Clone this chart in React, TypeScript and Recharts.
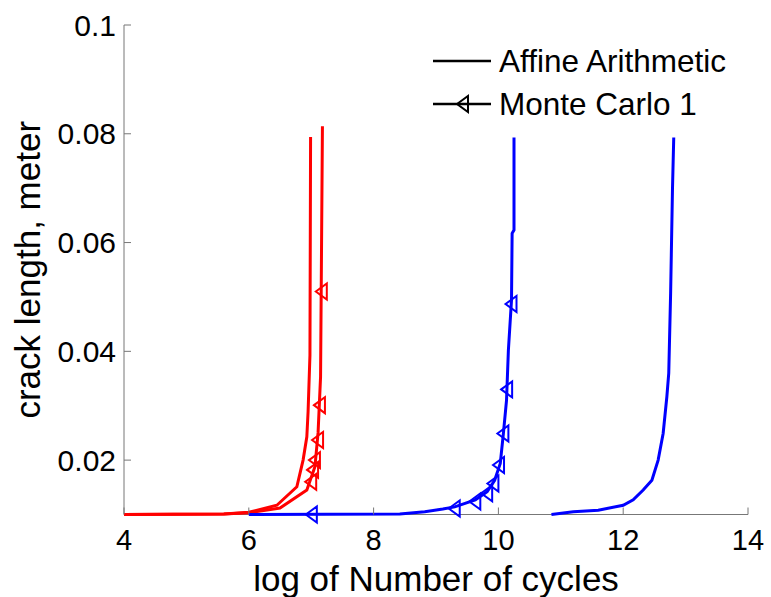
import React from "react";
import {
  ComposedChart,
  Line,
  Scatter,
  XAxis,
  YAxis,
} from "recharts";

// log10(N) vs crack length (m)
const redAffineLow: [number, number][] = [
  [4, 0.01], [5.6, 0.0101], [6.0, 0.0104], [6.45, 0.0117], [6.77, 0.0151],
  [6.87, 0.02], [6.93, 0.0243], [6.95, 0.0289], [6.98, 0.0393], [6.99, 0.0794],
];
const redAffineHigh: [number, number][] = [
  [4, 0.01], [5.6, 0.0101], [6.0, 0.0103], [6.5, 0.0112], [6.93, 0.0145],
  [7.06, 0.0188], [7.11, 0.025], [7.15, 0.0353], [7.18, 0.0814],
];
const blueAffineLow: [number, number][] = [
  [6.0, 0.01], [8.42, 0.0101], [8.82, 0.0105], [9.11, 0.011], [9.3, 0.0114],
  [9.63, 0.0127], [9.82, 0.0142], [9.94, 0.0163], [10.03, 0.0194], [10.08, 0.0249],
  [10.13, 0.031], [10.16, 0.0402], [10.21, 0.0494], [10.22, 0.0617], [10.25, 0.0623],
  [10.25, 0.0793],
];
const blueAffineHigh: [number, number][] = [
  [10.85, 0.01], [11.2, 0.0105], [11.6, 0.0108], [12.0, 0.0117], [12.16, 0.0127],
  [12.32, 0.0145], [12.46, 0.0163], [12.56, 0.02], [12.64, 0.0249], [12.7, 0.0317],
  [12.73, 0.036], [12.76, 0.0507], [12.79, 0.07], [12.81, 0.0793],
];

// Monte Carlo markers
const redMonteCarlo: [number, number][] = [
  [7.0, 0.016], [7.03, 0.0182], [7.06, 0.02], [7.11, 0.0237], [7.14, 0.0301], [7.17, 0.051],
];
const blueMonteCarlo: [number, number][] = [
  [7.01, 0.01], [9.3, 0.0111], [9.63, 0.0124], [9.82, 0.0139], [9.92, 0.0157],
  [10.01, 0.0191], [10.08, 0.0249], [10.14, 0.033], [10.21, 0.0487],
];

const xTicks = [4, 6, 8, 10, 12, 14];
const yTicks = [0.02, 0.04, 0.06, 0.08, 0.1];

const toRows = (pts: [number, number][]) => pts.map(([x, y]) => ({ x, y }));

const RED = "#ff0000";
const BLUE = "#0000ff";
const AXIS = "#777777";
const FONT = "'Liberation Sans', Arial, sans-serif";
const TICK_LEN = 7;

function Tri({ cx, cy, color }: { cx: number; cy: number; color: string }) {
  const pts = `${cx - 6},${cy} ${cx + 5},${cy - 8} ${cx + 5},${cy + 8}`;
  return <polygon points={pts} fill="none" stroke={color} strokeWidth={2} />;
}

const fmtY = (v: number) => (v === 0.1 ? "0.1" : v.toFixed(2));

function BottomTick({ x, y, payload }: any) {
  return (
    <g>
      <line x1={x} y1={y} x2={x} y2={y - TICK_LEN} stroke={AXIS} />
      <text x={x} y={y + 25} textAnchor="middle" dominantBaseline="central"
        fontSize={29} fontFamily={FONT} fill="#000">
        {payload.value}
      </text>
    </g>
  );
}

function LeftTick({ x, y, payload }: any) {
  return (
    <g>
      <line x1={x} y1={y} x2={x + TICK_LEN} y2={y} stroke={AXIS} />
      <text x={x - 8} y={y} textAnchor="end" dominantBaseline="central"
        fontSize={30} fontFamily={FONT} fill="#000">
        {fmtY(payload.value)}
      </text>
    </g>
  );
}

const TopTick = ({ x, y }: any) => (
  <line x1={x} y1={y} x2={x} y2={y + TICK_LEN} stroke={AXIS} />
);
const RightTick = ({ x, y }: any) => (
  <line x1={x} y1={y} x2={x - TICK_LEN} y2={y} stroke={AXIS} />
);

function YTitle({ viewBox }: any) {
  const cx = 27;
  const cy = viewBox.y + viewBox.height / 2;
  return (
    <text x={cx} y={cy} transform={`rotate(-90 ${cx} ${cy})`} textAnchor="middle"
      dominantBaseline="central" fontSize={35} fontFamily={FONT} fill="#000">
      crack length, meter
    </text>
  );
}

function LegendBox() {
  const txt = { fontSize: 31.5, fontFamily: FONT, fill: "#000" };
  return (
    <svg width={330} height={90} style={{ position: "absolute", left: 425, top: 40 }}>
      <line x1={8} y1={21} x2={66} y2={21} stroke="#000" strokeWidth={2.5} />
      <text x={74} y={21} dominantBaseline="central" {...txt}>Affine Arithmetic</text>
      <line x1={8} y1={64} x2={66} y2={64} stroke="#000" strokeWidth={2.5} />
      <Tri cx={38} cy={64} color="#000" />
      <text x={74} y={64} dominantBaseline="central" {...txt}>Monte Carlo 1</text>
    </svg>
  );
}

export default function App() {
  const curves = [
    { key: "rl", pts: redAffineLow, color: RED },
    { key: "rh", pts: redAffineHigh, color: RED },
    { key: "bl", pts: blueAffineLow, color: BLUE },
    { key: "bh", pts: blueAffineHigh, color: BLUE },
  ];
  return (
    <div style={{ position: "absolute", left: 0, top: 0, width: 771, height: 597, background: "#fff" }}>
      <ComposedChart
        width={771}
        height={597}
        margin={{ top: 25, right: 23, left: 0, bottom: 0 }}
      >
        <XAxis
          dataKey="x"
          type="number"
          domain={[4, 14]}
          ticks={xTicks}
          height={82.5}
          stroke={AXIS}
          tickLine={false}
          tickSize={0}
          tickMargin={0}
          tick={<BottomTick />}
          label={{ value: "log of Number of cycles", position: "insideBottom",
            offset: 6, fontSize: 35, fontFamily: FONT, fill: "#000" }}
        />
        <XAxis
          xAxisId="top"
          orientation="top"
          dataKey="x"
          type="number"
          domain={[4, 14]}
          ticks={xTicks}
          height={0}
          stroke={AXIS}
          tickLine={false}
          tickSize={0}
          tickMargin={0}
          tick={<TopTick />}
        />
        <YAxis
          type="number"
          domain={[0.01, 0.1]}
          ticks={yTicks}
          width={124}
          stroke={AXIS}
          tickLine={false}
          tickSize={0}
          tickMargin={0}
          tick={<LeftTick />}
          label={<YTitle />}
        />
        <YAxis
          yAxisId="right"
          orientation="right"
          type="number"
          domain={[0.01, 0.1]}
          ticks={yTicks}
          width={0}
          stroke={AXIS}
          tickLine={false}
          tickSize={0}
          tickMargin={0}
          tick={<RightTick />}
        />
        {curves.map((c) => (
          <Line
            key={c.key}
            data={toRows(c.pts)}
            dataKey="y"
            type="linear"
            stroke={c.color}
            strokeWidth={3}
            dot={false}
            activeDot={false}
            isAnimationActive={false}
            zIndex={650}
          />
        ))}
        <Scatter
          data={toRows(redMonteCarlo)}
          dataKey="y"
          isAnimationActive={false}
          zIndex={700}
          shape={(p: any) => <Tri cx={p.cx} cy={p.cy} color={RED} />}
        />
        <Scatter
          data={toRows(blueMonteCarlo)}
          dataKey="y"
          isAnimationActive={false}
          zIndex={700}
          shape={(p: any) => <Tri cx={p.cx} cy={p.cy} color={BLUE} />}
        />
      </ComposedChart>
      <LegendBox />
    </div>
  );
}
